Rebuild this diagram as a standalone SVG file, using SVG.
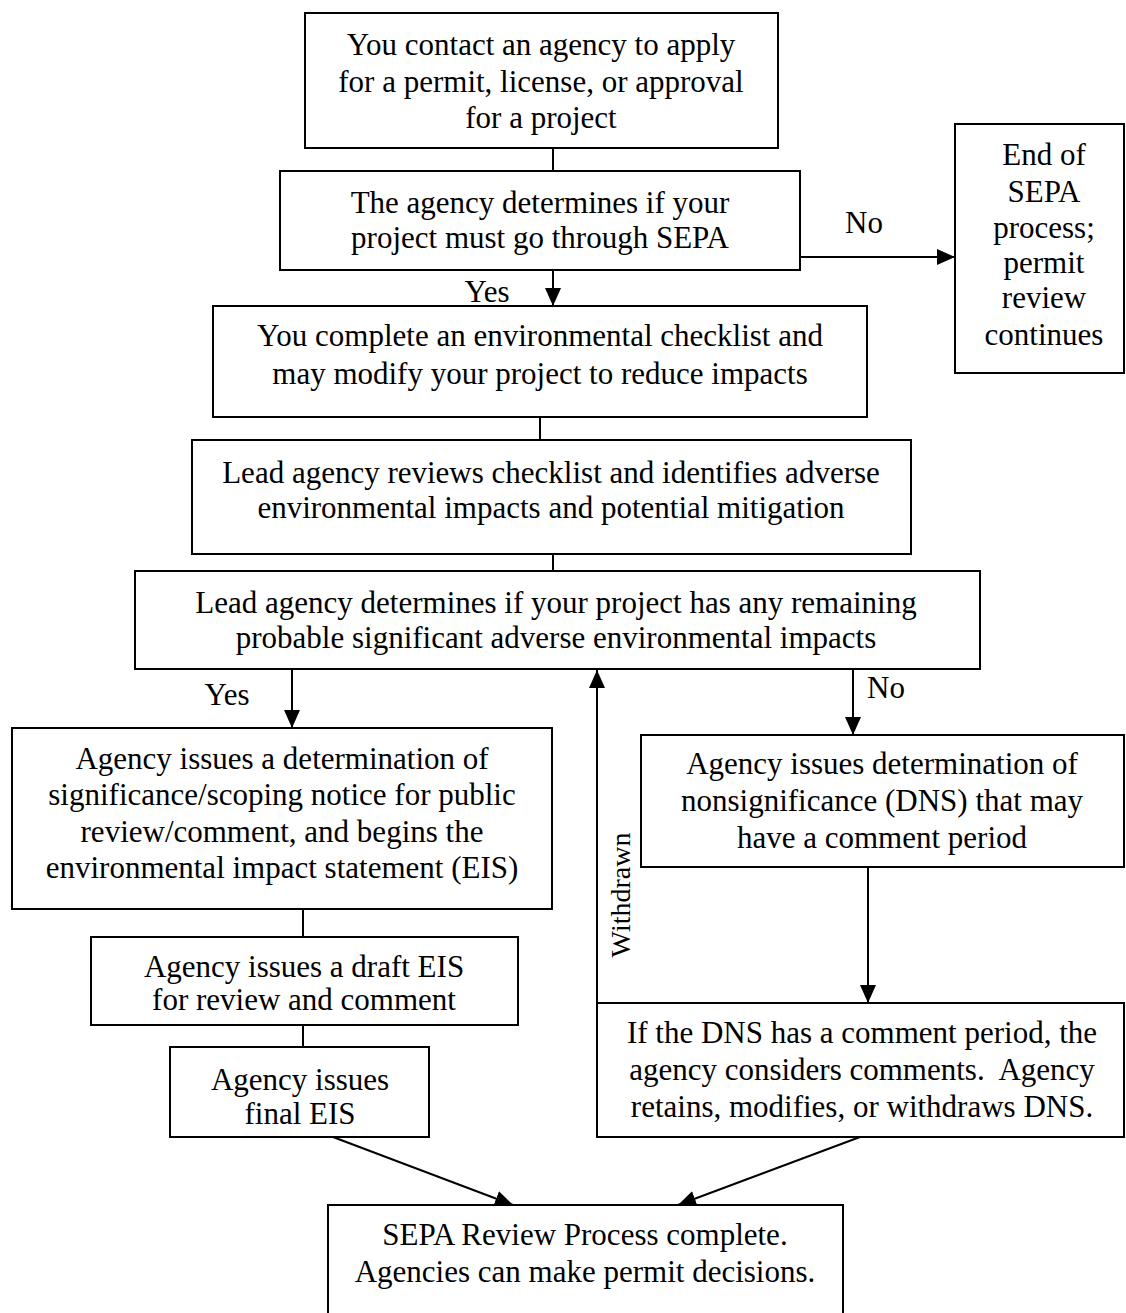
<svg xmlns="http://www.w3.org/2000/svg" width="1126" height="1313" viewBox="0 0 1126 1313">
<style>
  .box { fill: #ffffff; stroke: #000000; stroke-width: 2; }
  .t { font-family: "Liberation Serif", "Times New Roman", serif; font-size: 31px; fill: #000000; text-anchor: middle; }
  .lbl { font-family: "Liberation Serif", "Times New Roman", serif; font-size: 31px; fill: #000000; text-anchor: middle; }
  .vl { font-family: "Liberation Serif", "Times New Roman", serif; font-size: 28px; fill: #000000; text-anchor: middle; }
  .c { stroke: #000000; stroke-width: 2; fill: none; }
</style>
<defs>
  <marker id="ah" viewBox="0 0 18 16" refX="18" refY="8" markerWidth="18" markerHeight="16" markerUnits="userSpaceOnUse" orient="auto">
    <path d="M0,0 L18,8 L0,16 Z" fill="#000000"/>
  </marker>
</defs>
<rect width="1126" height="1313" fill="#ffffff"/>

<g id="connectors">
  <line class="c" x1="553" y1="148" x2="553" y2="171"/>
  <line class="c" x1="553" y1="270" x2="553" y2="306" marker-end="url(#ah)"/>
  <line class="c" x1="800" y1="257" x2="955" y2="257" marker-end="url(#ah)"/>
  <line class="c" x1="540" y1="417" x2="540" y2="440"/>
  <line class="c" x1="553" y1="554" x2="553" y2="571"/>
  <line class="c" x1="292" y1="669" x2="292" y2="728" marker-end="url(#ah)"/>
  <line class="c" x1="853" y1="669" x2="853" y2="735" marker-end="url(#ah)"/>
  <line class="c" x1="597" y1="1003" x2="597" y2="670" marker-end="url(#ah)"/>
  <line class="c" x1="303" y1="909" x2="303" y2="937"/>
  <line class="c" x1="303" y1="1025" x2="303" y2="1047"/>
  <line class="c" x1="868" y1="867" x2="868" y2="1003" marker-end="url(#ah)"/>
  <line class="c" x1="333" y1="1137" x2="513" y2="1205" marker-end="url(#ah)"/>
  <line class="c" x1="860" y1="1137" x2="678" y2="1205" marker-end="url(#ah)"/>
  <text class="lbl" x="864" y="233">No</text>
  <text class="lbl" x="487" y="302">Yes</text>
  <text class="lbl" x="227" y="705">Yes</text>
  <text class="lbl" x="886" y="698">No</text>
  <text class="vl" transform="translate(630,895) rotate(-90)">Withdrawn</text>
</g>

<g id="n1">
  <rect class="box" x="305" y="13" width="473" height="135"/>
  <text class="t" x="541" y="55">You contact an agency to apply</text>
  <text class="t" x="541" y="92">for a permit, license, or approval</text>
  <text class="t" x="541" y="128">for a project</text>
</g>
<g id="n2">
  <rect class="box" x="280" y="171" width="520" height="99"/>
  <text class="t" x="540" y="213">The agency determines if your</text>
  <text class="t" x="540" y="248">project must go through SEPA</text>
</g>
<g id="n3">
  <rect class="box" x="955" y="124" width="169" height="249"/>
  <text class="t" x="1044" y="165">End of</text>
  <text class="t" x="1044" y="202">SEPA</text>
  <text class="t" x="1044" y="238">process;</text>
  <text class="t" x="1044" y="273">permit</text>
  <text class="t" x="1044" y="308">review</text>
  <text class="t" x="1044" y="345">continues</text>
</g>
<g id="n4">
  <rect class="box" x="213" y="306" width="654" height="111"/>
  <text class="t" x="540" y="346">You complete an environmental checklist and</text>
  <text class="t" x="540" y="384">may modify your project to reduce impacts</text>
</g>
<g id="n5">
  <rect class="box" x="192" y="440" width="719" height="114"/>
  <text class="t" x="551" y="483">Lead agency reviews checklist and identifies adverse</text>
  <text class="t" x="551" y="518">environmental impacts and potential mitigation</text>
</g>
<g id="n6">
  <rect class="box" x="135" y="571" width="845" height="98"/>
  <text class="t" x="556" y="613">Lead agency determines if your project has any remaining</text>
  <text class="t" x="556" y="648">probable significant adverse environmental impacts</text>
</g>
<g id="n7">
  <rect class="box" x="12" y="728" width="540" height="181"/>
  <text class="t" x="282" y="769">Agency issues a determination of</text>
  <text class="t" x="282" y="805">significance/scoping notice for public</text>
  <text class="t" x="282" y="842">review/comment, and begins the</text>
  <text class="t" x="282" y="878">environmental impact statement (EIS)</text>
</g>
<g id="n8">
  <rect class="box" x="641" y="735" width="483" height="132"/>
  <text class="t" x="882" y="774">Agency issues determination of</text>
  <text class="t" x="882" y="811">nonsignificance (DNS) that may</text>
  <text class="t" x="882" y="848">have a comment period</text>
</g>
<g id="n9">
  <rect class="box" x="91" y="937" width="427" height="88"/>
  <text class="t" x="304" y="977">Agency issues a draft EIS</text>
  <text class="t" x="304" y="1010">for review and comment</text>
</g>
<g id="n10">
  <rect class="box" x="170" y="1047" width="259" height="90"/>
  <text class="t" x="300" y="1090">Agency issues</text>
  <text class="t" x="300" y="1124">final EIS</text>
</g>
<g id="n11">
  <rect class="box" x="597" y="1003" width="527" height="134"/>
  <text class="t" x="862" y="1043">If the DNS has a comment period, the</text>
  <text class="t" x="862" y="1080" xml:space="preserve">agency considers comments.  Agency</text>
  <text class="t" x="862" y="1117">retains, modifies, or withdraws DNS.</text>
</g>
<g id="n12">
  <rect class="box" x="328" y="1205" width="515" height="120"/>
  <text class="t" x="585" y="1245">SEPA Review Process complete.</text>
  <text class="t" x="585" y="1282">Agencies can make permit decisions.</text>
</g>
</svg>
